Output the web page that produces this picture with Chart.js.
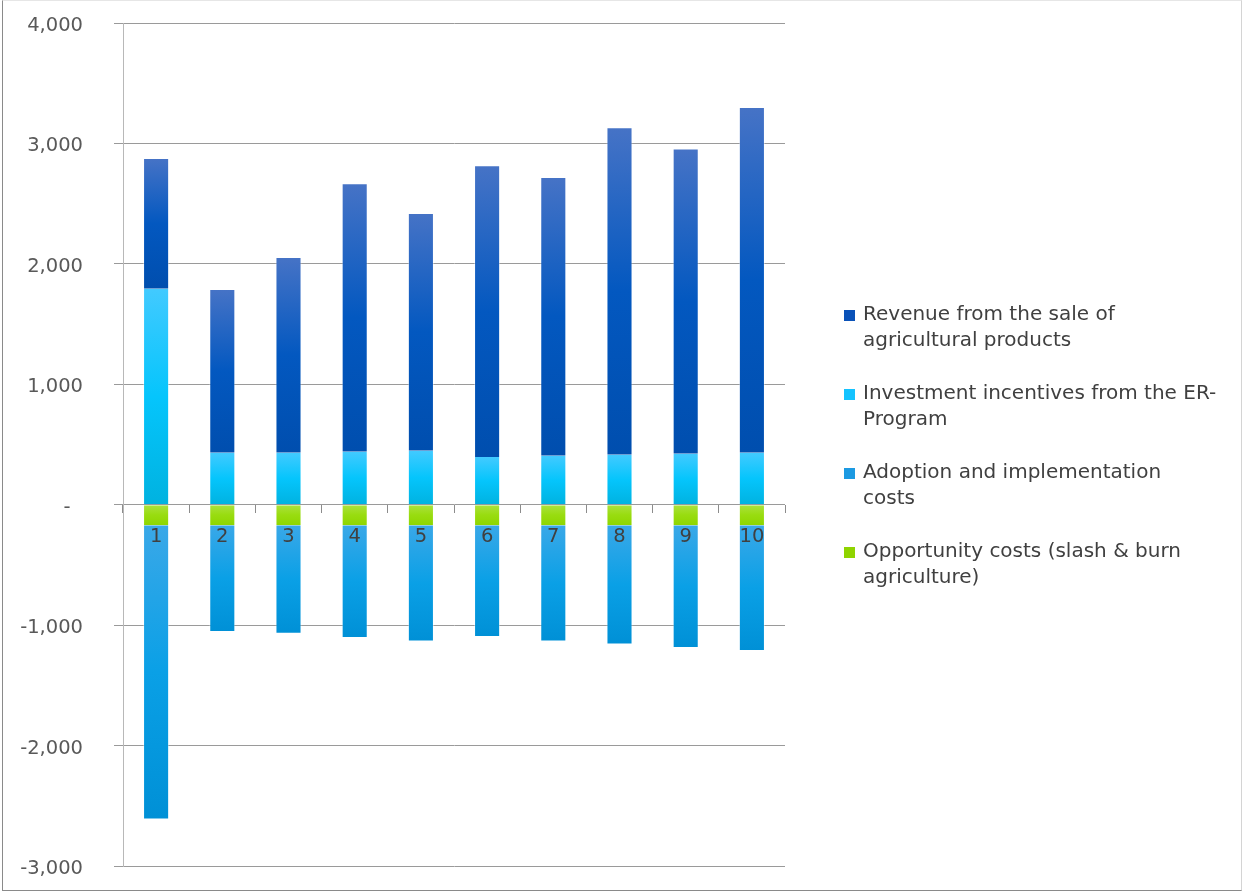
<!DOCTYPE html>
<html>
<head>
<meta charset="utf-8">
<title>Farm cash flows by year</title>
<script src="https://cdn.jsdelivr.net/npm/chart.js@4.4.1/dist/chart.umd.min.js"></script>
<style>
  html, body { margin: 0; padding: 0; background: #ffffff; }
  #frame {
    position: absolute; left: 2px; top: 0; width: 1240px; height: 891px;
    box-sizing: border-box;
    border: 1px solid #8a8a8a;
    border-top-color: #e6e6e6;
    border-right-color: #d4d4d4;
  }
  #chart { position: absolute; left: 0; top: 0; }
</style>
</head>
<body>
<div id="frame"></div>
<canvas id="chart" width="1243" height="892"></canvas>
<script>
// Years 1..10
const years = ['1', '2', '3', '4', '5', '6', '7', '8', '9', '10'];

// Income (stacked above zero)
const incentives = [1794, 432, 432, 440, 449, 396, 407, 415, 424, 432];
const revenue = [1085, 1359, 1625, 2229, 1974, 2422, 2315, 2719, 2533, 2871];

// Costs (stacked below zero)
const opportunity = [-170, -170, -170, -170, -170, -170, -170, -170, -170, -170];
const adoption = [-2444, -887, -901, -937, -965, -929, -965, -990, -1020, -1045];

// Y axis range
const yMin = -3000;
const yMax = 4000;
const yStep = 1000;

const FONT = '"DejaVu Sans", sans-serif';

// vertical gradient spanning a single bar, from its upper to its lower value
function barFill(stops, upper, lower) {
  return function(ctx) {
    const chart = ctx.chart;
    const y = chart.scales.y;
    if (!chart.chartArea || !y || ctx.type !== 'data') {
      return stops[1][1];
    }
    const i = ctx.dataIndex;
    const top = y.getPixelForValue(upper(i));
    const bottom = y.getPixelForValue(lower(i));
    const g = chart.ctx.createLinearGradient(0, top, 0, bottom);
    stops.forEach(s => g.addColorStop(s[0], s[1]));
    return g;
  };
}

const EDGE = 'rgba(255, 255, 255, 0.4)';

const datasets = [
  {
    label: 'Investment incentives from the ER-\nProgram',
    data: incentives,
    legendOrder: 1,
    swatch: '#14c3ff',
    borderWidth: { left: 1, right: 1, top: 0, bottom: 0 },
    backgroundColor: barFill(
      [[0, '#42caff'], [0.5, '#05c5fc'], [1, '#00b2e0']],
      i => incentives[i], i => 0)
  },
  {
    label: 'Revenue from the sale of\nagricultural products',
    data: revenue,
    legendOrder: 0,
    swatch: '#0a52b8',
    borderWidth: { left: 1, right: 1, top: 1, bottom: 0 },
    backgroundColor: barFill(
      [[0, '#4673c6'], [0.5, '#0358c0'], [1, '#004eae']],
      i => incentives[i] + revenue[i], i => incentives[i])
  },
  {
    label: 'Opportunity costs (slash & burn\nagriculture)',
    data: opportunity,
    legendOrder: 3,
    swatch: '#8fd400',
    borderWidth: { left: 1, right: 1, top: 0, bottom: 0 },
    backgroundColor: barFill(
      [[0, '#abe23f'], [0.5, '#99dc10'], [1, '#8ed600']],
      i => 0, i => opportunity[i])
  },
  {
    label: 'Adoption and implementation\ncosts',
    data: adoption,
    legendOrder: 2,
    swatch: '#1c9ae2',
    borderWidth: { left: 1, right: 1, top: 0, bottom: 1 },
    backgroundColor: barFill(
      [[0, '#3aa8e8'], [0.5, '#0aa0e6'], [1, '#0090d6']],
      i => opportunity[i], i => opportunity[i] + adoption[i])
  }
];

datasets.forEach(ds => {
  ds.borderColor = EDGE;
  ds.borderSkipped = false;
  ds.categoryPercentage = 1;
  ds.barPercentage = 0.394;
});

// legend on the right, labels broken onto two lines
const sideLegend = {
  id: 'sideLegend',
  afterDraw(chart) {
    const ctx = chart.ctx;
    const area = chart.chartArea;
    const items = chart.data.datasets.slice().sort((a, b) => a.legendOrder - b.legendOrder);
    const pitch = 79;
    const lineH = 26.5;
    const center = (area.top + area.bottom) / 2 + 2;
    let y = center - ((items.length - 1) * pitch + lineH) / 2;
    const markX = area.right + 59;
    const textX = area.right + 78;

    ctx.save();
    ctx.font = '20px ' + FONT;
    ctx.textBaseline = 'middle';
    ctx.textAlign = 'left';
    items.forEach(ds => {
      ctx.fillStyle = ds.swatch;
      ctx.fillRect(markX, Math.round(y) - 5, 11, 11);
      ctx.fillStyle = '#404040';
      ds.label.split('\n').forEach((line, k) => {
        ctx.fillText(line, textX, y + k * lineH);
      });
      y += pitch;
    });
    ctx.restore();
  }
};

new Chart(document.getElementById('chart'), {
  type: 'bar',
  data: {
    labels: years,
    datasets: datasets
  },
  options: {
    responsive: false,
    animation: false,
    layout: {
      padding: { left: 0, top: 23, right: 458, bottom: 26 }
    },
    plugins: {
      legend: { display: false },
      tooltip: { enabled: false }
    },
    scales: {
      x: {
        stacked: true,
        position: { y: 0 },
        offset: true,
        grid: {
          offset: true,
          drawOnChartArea: false,
          drawTicks: true,
          tickLength: 8,
          color: '#8c8c8c'
        },
        border: { display: false },
        ticks: {
          z: 1,
          color: '#404040',
          padding: 13,
          font: { family: FONT, size: 19.5 }
        }
      },
      y: {
        stacked: true,
        min: yMin,
        max: yMax,
        afterFit(scale) {
          // fixed axis width; the wide label padding must not push the plot down
          scale.width = 123;
          scale.paddingTop = 0;
          scale.paddingBottom = 0;
        },
        grid: {
          color: '#9a9a9a',
          tickLength: 9
        },
        border: { color: '#b8b8b8' },
        ticks: {
          stepSize: yStep,
          padding: 31,
          labelOffset: 3,
          color: '#595959',
          font: { family: FONT, size: 19.5 },
          callback: v => v === 0 ? '-  ' : v.toLocaleString('en-US')
        }
      }
    }
  },
  plugins: [sideLegend]
});
</script>
</body>
</html>
